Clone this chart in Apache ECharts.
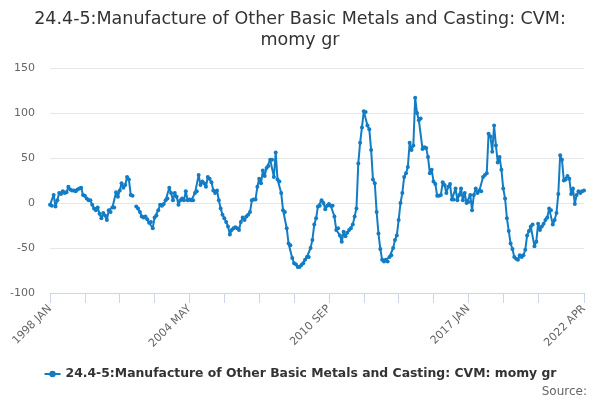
<!DOCTYPE html>
<html>
<head>
<meta charset="utf-8">
<script src="https://cdn.jsdelivr.net/npm/echarts@6/dist/echarts.min.js"></script>
<style>
  html, body { margin: 0; padding: 0; background: #fff; }
  #chart { width: 600px; height: 400px; }
</style>
</head>
<body>
<div id="chart"></div>
<script>
// monthly labels 1998 JAN .. 2022 APR
var monthNames = ['JAN','FEB','MAR','APR','MAY','JUN','JUL','AUG','SEP','OCT','NOV','DEC'];
var categories = [];
for (var y = 1998; y <= 2022; y++) {
  for (var m = 0; m < 12; m++) {
    if (y === 2022 && m > 3) break;
    categories.push(y + ' ' + monthNames[m]);
  }
}

var seriesName = '24.4-5:Manufacture of Other Basic Metals and Casting: CVM: momy gr';

// values, one per month
var values = [
  -2, -3, 9, -4, 3, 11, 10, 13, 11, 12, 18, 15, 14, 14, 13, 15, 16, 17, 9, 8,
  5, 3, 3, -2, -6, -8, -5, -12, -17, -11, -14, -19, -8, -10, -5, -5, 12, 7, 14, 22,
  17, 20, 29, 26, 9, 8, null, -4, -6, -10, -15, -16, -15, -18, -22, -21, -28, -16, -14, -8,
  -2, -3, -1, 3, 5, 17, 11, 3, 11, 7, -2, 3, 5, 3, 13, 3, 4, 3, 3, 11,
  13, 31, 20, 24, 22, 18, 29, 27, 23, 14, 11, 14, 3, -6, -13, -17, -21, -26, -35, -30,
  -28, -27, -28, -30, -21, -16, -19, -15, -13, -10, 3, 4, 4, 18, 27, 22, 36, 30, 39, 41,
  48, 48, 29, 56, 26, 24, 11, -8, -10, -28, -45, -47, -61, -67, -68, -71, -71, -69, -67, -63,
  -60, -60, -50, -41, -24, -17, -4, -3, 3, 0, -7, -3, -1, -3, -3, -15, -30, -28, -36, -43,
  -32, -37, -33, -30, -28, -24, -15, -6, 44, 67, 84, 102, 101, 86, 82, 59, 26, 22, -10, -34,
  -51, -63, -65, -63, -65, -60, -58, -50, -41, -36, -19, 0, 11, 29, 33, 40, 67, 59, 64, 117,
  100, 92, 94, 60, 62, 61, 51, 33, 37, 24, 21, 8, 8, 9, 23, 20, 11, 18, 21, 4,
  4, 16, 3, 9, 16, 3, 11, 0, 1, 9, -8, 9, 16, 11, 14, 13, 29, 31, 33, 77,
  74, 57, 86, 64, 45, 51, 37, 16, 5, -17, -31, -45, -51, -60, -62, -63, -58, -60, -58, -52,
  -36, -31, -26, -24, -48, -43, -23, -30, -26, -23, -19, -16, -6, -8, -24, -19, -11, 10, 53, 48,
  25, 26, 30, 27, 10, 16, -1, 9, 13, 11, 13, 14
];

var yTicks = { min: -100, max: 150, step: 50 };

var chart = echarts.init(document.getElementById('chart'), null, { renderer: 'canvas' });
var lastIdx = categories.length - 1;

chart.setOption({
  animation: false,
  textStyle: { fontFamily: 'DejaVu Sans' },
  title: [{
    text: '24.4-5:Manufacture of Other Basic Metals and Casting: CVM:\nmomy gr',
    left: 'center',
    top: 4,
    textStyle: { fontSize: 17.5, fontWeight: 'normal', color: '#333333', lineHeight: 21, fontFamily: 'DejaVu Sans' }
  }, {
    text: 'Source:',
    right: 8,
    top: 381,
    textStyle: { fontSize: 12, fontWeight: 'normal', color: '#666666', fontFamily: 'DejaVu Sans' }
  }],
  legend: {
    bottom: 15,
    left: 'center',
    itemWidth: 16,
    itemHeight: 8,
    itemGap: 5,
    textStyle: { fontSize: 12.4, fontWeight: 'bold', color: '#333333', fontFamily: 'DejaVu Sans' },
    data: [seriesName]
  },
  grid: { left: 50, right: 16, top: 68, bottom: 107 },
  xAxis: {
    type: 'category',
    data: categories,
    boundaryGap: false,
    axisLine: { show: true, onZero: false, lineStyle: { color: '#ccd6eb', width: 1 } },
    axisTick: {
      show: true,
      length: 10,
      lineStyle: { color: '#ccd6eb', width: 1 },
      interval: function (i) { return (i % 19 === 0 && i <= 266) || i === lastIdx; }
    },
    axisLabel: {
      rotate: 45,
      fontSize: 11,
      color: '#666666',
      margin: 14,
      interval: function (i) { return i % 76 === 0 || i === lastIdx; }
    },
    splitLine: { show: false }
  },
  yAxis: {
    type: 'value',
    min: yTicks.min,
    max: yTicks.max,
    interval: yTicks.step,
    axisLine: { show: false },
    axisTick: { show: false },
    axisLabel: { fontSize: 11, color: '#666666', margin: 15 },
    splitLine: { lineStyle: { color: '#e6e6e6', width: 1 } }
  },
  series: [{
    name: seriesName,
    type: 'line',
    data: values,
    connectNulls: false,
    symbol: 'circle',
    symbolSize: 4,
    showAllSymbol: true,
    itemStyle: { color: '#127cc4' },
    lineStyle: { color: '#127cc4', width: 2 }
  }]
});
</script>
</body>
</html>
